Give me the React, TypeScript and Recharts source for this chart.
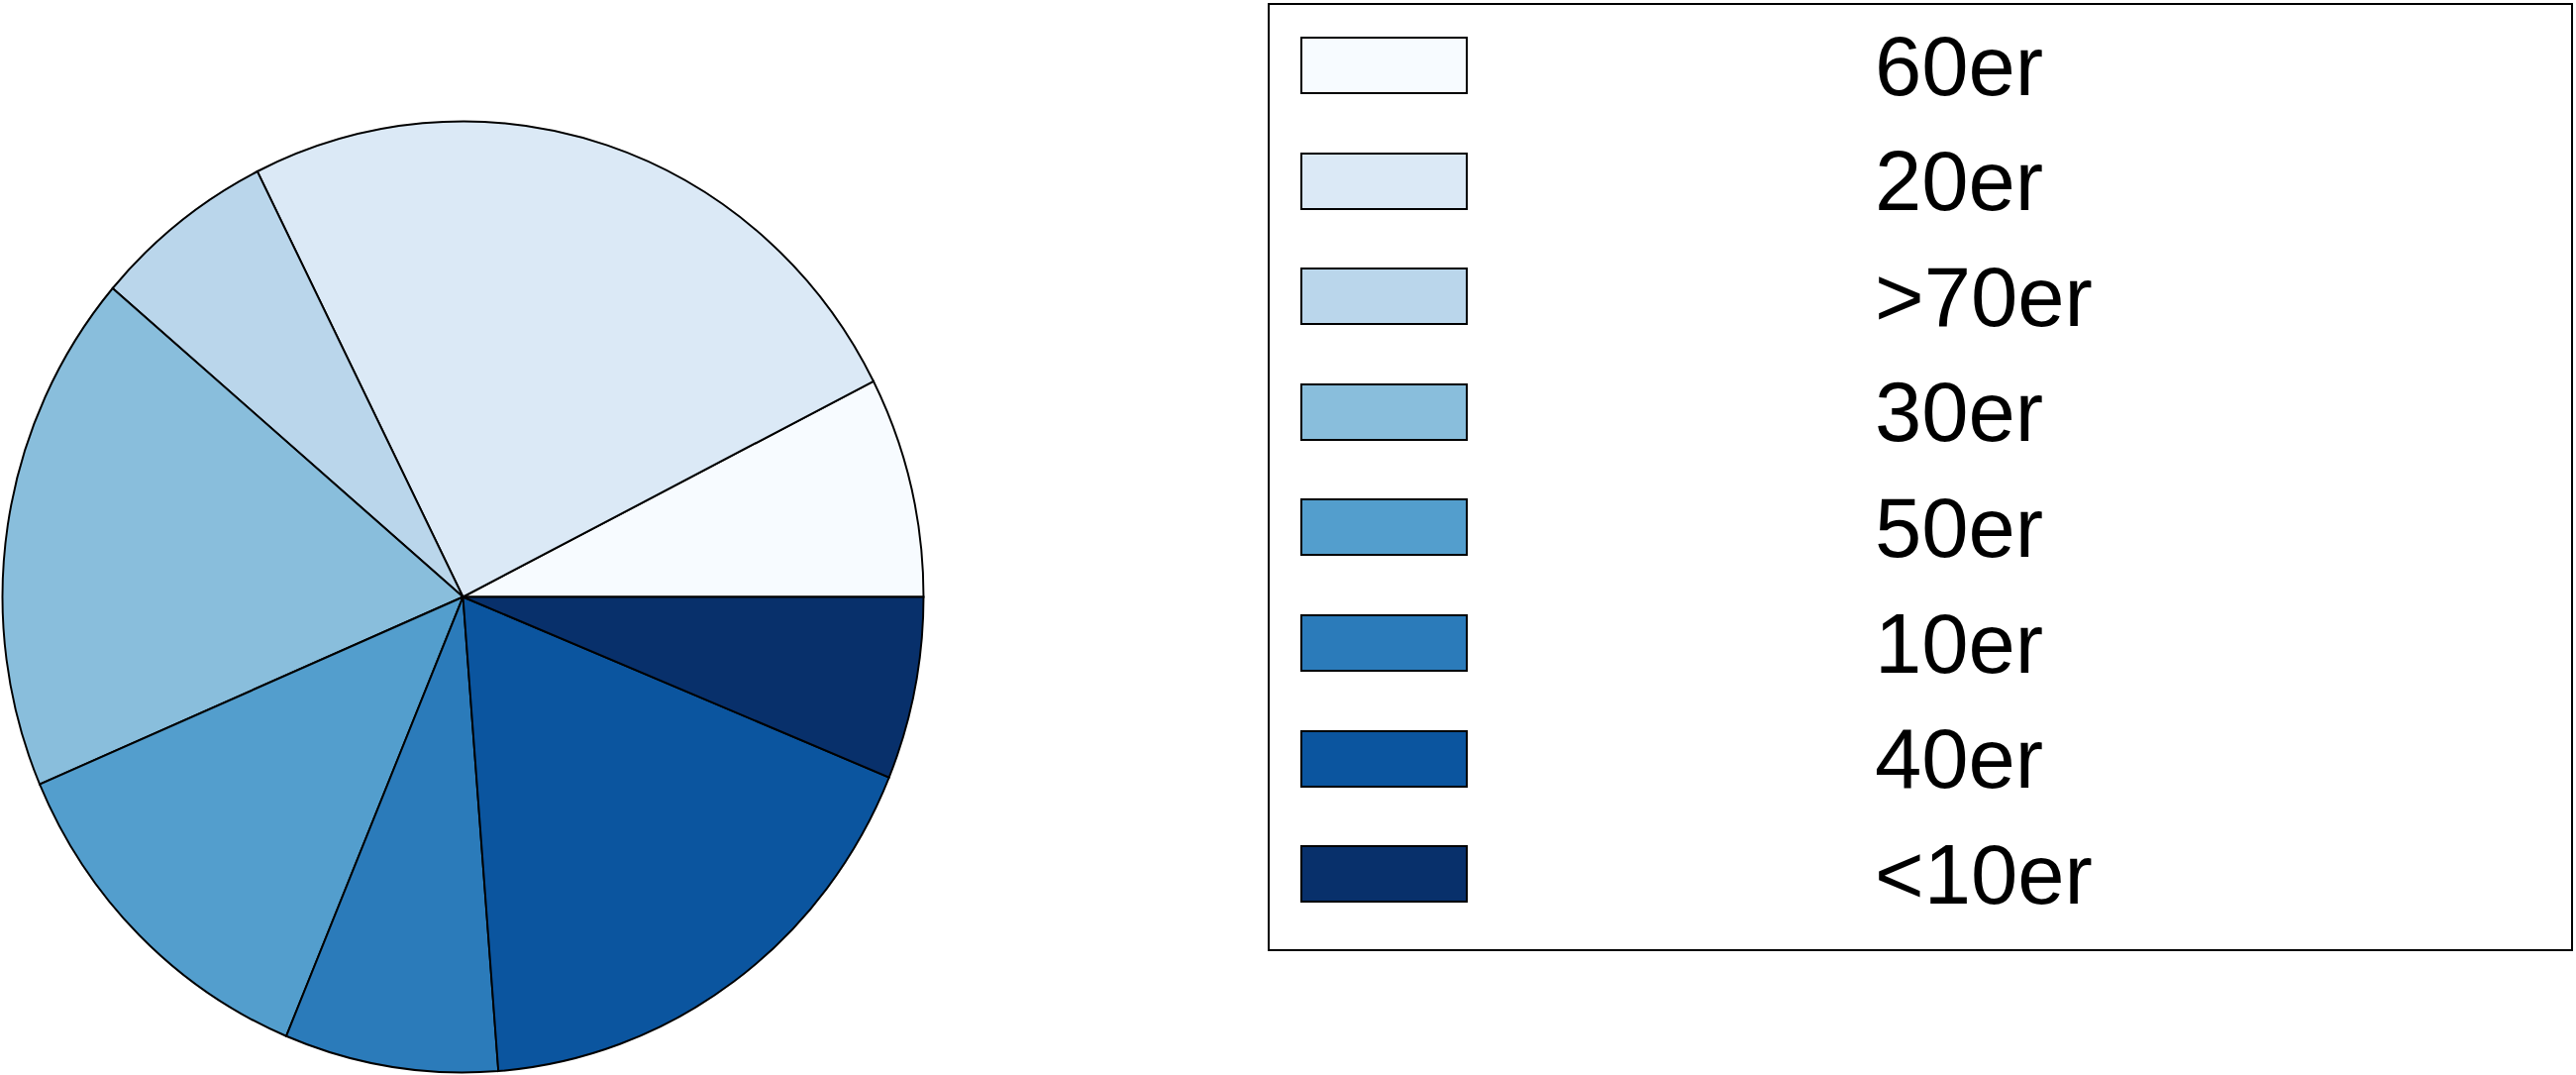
import React from 'react';
import { PieChart, Pie, Cell, Legend, Sector } from 'recharts';

const categories = ['60er', '20er', '>70er', '30er', '50er', '10er', '40er', '<10er'];
const shares = [7.5, 24.9, 6.4, 17.7, 12.3, 7.5, 17.6, 6.2];
const colors = ['#f7fbff', '#dbe9f6', '#bad6eb', '#89bedc', '#539ecd', '#2b7bba', '#0b559f', '#08306b'];

const data = categories.map((name, i) => ({ name, value: shares[i] }));

const SX = 465 / 480;

const EllipseSector = (props: any) => {
  const { cx, cy } = props;
  return (
    <g transform={`translate(${cx},${cy}) scale(${SX},1) translate(${-cx},${-cy})`}>
      <Sector {...props} />
    </g>
  );
};

const LegendBox = () => (
  <div
    style={{
      position: 'relative',
      boxSizing: 'border-box',
      width: 1318,
      height: 957,
      border: '2px solid #000',
      background: '#fff',
      fontFamily: '"Liberation Sans", Arial, sans-serif',
    }}
  >
    {categories.map((c, i) => (
      <div
        key={c}
        style={{
          position: 'absolute',
          left: 31,
          top: 32 + i * 116.6,
          height: 58,
          display: 'flex',
          alignItems: 'center',
        }}
      >
        <div
          style={{
            boxSizing: 'border-box',
            width: 169,
            height: 58,
            border: '2px solid #000',
            background: colors[i],
          }}
        />
        <div
          style={{
            position: 'absolute',
            left: 580,
            top: 0,
            height: 58,
            display: 'flex',
            alignItems: 'center',
            fontSize: 85,
            lineHeight: '85px',
            color: '#000',
            whiteSpace: 'nowrap',
          }}
        >
          {c}
        </div>
      </div>
    ))}
  </div>
);

export default function App() {
  return (
    <div style={{ position: 'absolute', left: 0, top: 0, width: 2601, height: 1085, background: '#fff' }}>
      <PieChart width={2601} height={1085} margin={{ top: 0, right: 0, bottom: 0, left: 0 }}>
        <Pie
          data={data}
          dataKey="value"
          nameKey="name"
          cx={467.5}
          cy={602.5}
          outerRadius={480}
          innerRadius={0}
          startAngle={0}
          endAngle={360}
          stroke="#000"
          strokeWidth={2}
          isAnimationActive={false}
          shape={EllipseSector}
          label={false}
          labelLine={false}
        >
          {data.map((d, i) => (
            <Cell key={d.name} fill={colors[i]} stroke="#000" strokeWidth={2} />
          ))}
        </Pie>
        <Legend
          layout="vertical"
          align="right"
          verticalAlign="middle"
          content={() => <LegendBox />}
          wrapperStyle={{ left: 1280, top: 3, right: 'auto', bottom: 'auto', width: 1318, height: 957, margin: 0 }}
        />
      </PieChart>
    </div>
  );
}
